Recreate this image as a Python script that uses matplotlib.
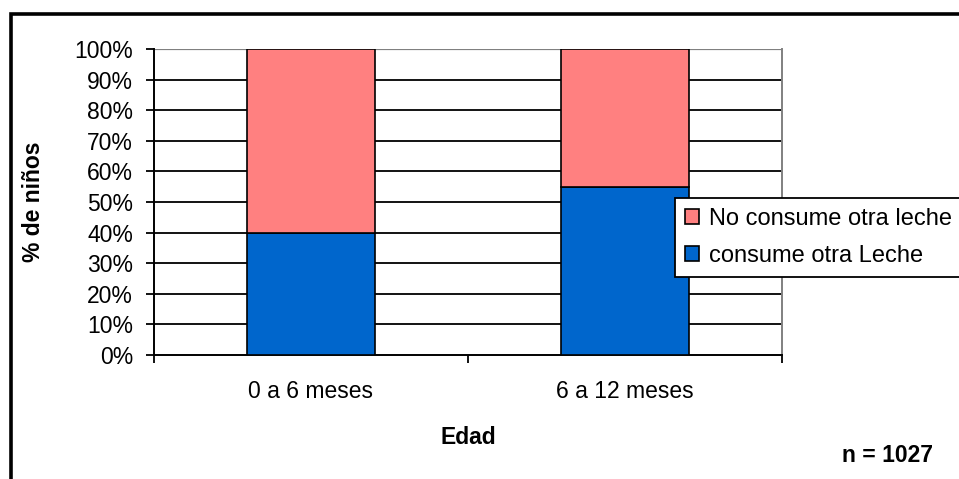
import matplotlib
matplotlib.use("Agg")
import matplotlib.pyplot as plt
from matplotlib.patches import Rectangle, Patch
from matplotlib.ticker import FixedLocator, PercentFormatter

# Data
categories = ["0 a 6 meses", "6 a 12 meses"]
consume_otra = [40, 55]
no_consume_otra = [60, 45]
series_labels = ["No consume otra leche", "consume otra Leche"]
y_ticks = list(range(0, 101, 10))

COL_PINK = "#FF8080"
COL_BLUE = "#0066CC"

plt.rcParams["font.family"] = ["Liberation Sans", "DejaVu Sans"]

W, H = 959, 479
fig = plt.figure(figsize=(W / 100, H / 100), dpi=100)
fig.patch.set_facecolor("white")

# Outer chart frame (extends past the right and bottom edges)
fig.patches.append(Rectangle((10.5 / W, -0.2), 1.2, (H - 13.5) / H + 0.2,
                             transform=fig.transFigure, fill=False,
                             edgecolor="black", linewidth=2.6, zorder=0))

ax = fig.add_axes([154 / W, (H - 355) / H, 628 / W, 306 / H])
ax.set_xlim(0, 2)
ax.set_ylim(0, 100)

x = [i + 0.5 for i in range(len(categories))]
bw = 0.405
ax.bar(x, consume_otra, width=bw, color=COL_BLUE, edgecolor="black",
       linewidth=1.2, zorder=3)
ax.bar(x, no_consume_otra, width=bw, bottom=consume_otra, color=COL_PINK,
       edgecolor="black", linewidth=1.2, zorder=3)

# Gridlines
for t in y_ticks[1:-1]:
    ax.axhline(t, color="black", linewidth=1.3, zorder=1)
ax.axhline(100, color="#808080", linewidth=1.6, zorder=1)

ax.spines["top"].set_visible(False)
ax.spines["right"].set_color("#808080")
ax.spines["right"].set_linewidth(1.4)
ax.spines["left"].set_linewidth(1.4)
ax.spines["bottom"].set_linewidth(1.4)

ax.yaxis.set_major_locator(FixedLocator(y_ticks))
ax.yaxis.set_major_formatter(PercentFormatter(decimals=0))
ax.tick_params(axis="y", direction="out", length=6, width=1.3,
               labelsize=16.5, pad=9)

# Category labels between boundary ticks
ax.set_xticks([0, 1, 2])
ax.set_xticklabels([])
ax.tick_params(axis="x", direction="out", length=6, width=1.3)
ax.set_xticks(x, minor=True)
ax.set_xticklabels(categories, minor=True)
ax.tick_params(axis="x", which="minor", length=0, labelsize=16.5, pad=18)

# Axis titles
fig.text(468 / W, 1 - 437 / H, "Edad", fontsize=16.5, fontweight="bold",
         ha="center", va="center")
fig.text(33 / W, 1 - 202 / H, "% de niños", fontsize=16.5, fontweight="bold",
         ha="center", va="center", rotation=90)

handles = [Patch(facecolor=COL_PINK, edgecolor="black", linewidth=1.2),
           Patch(facecolor=COL_BLUE, edgecolor="black", linewidth=1.2)]
leg = fig.legend(handles, series_labels, loc="upper left",
                 bbox_to_anchor=(675 / W, (H - 198) / H),
                 fontsize=17, frameon=True, fancybox=False,
                 edgecolor="black", framealpha=1, handlelength=0.6,
                 handleheight=0.6, handletextpad=0.4, labelspacing=0.65,
                 borderpad=0.42, borderaxespad=0)
leg.get_frame().set_linewidth(1.3)

fig.text(888 / W, 1 - 455 / H, "n = 1027", fontsize=16.5, fontweight="bold",
         ha="center", va="center")

fig.savefig("out.png", dpi=100)
